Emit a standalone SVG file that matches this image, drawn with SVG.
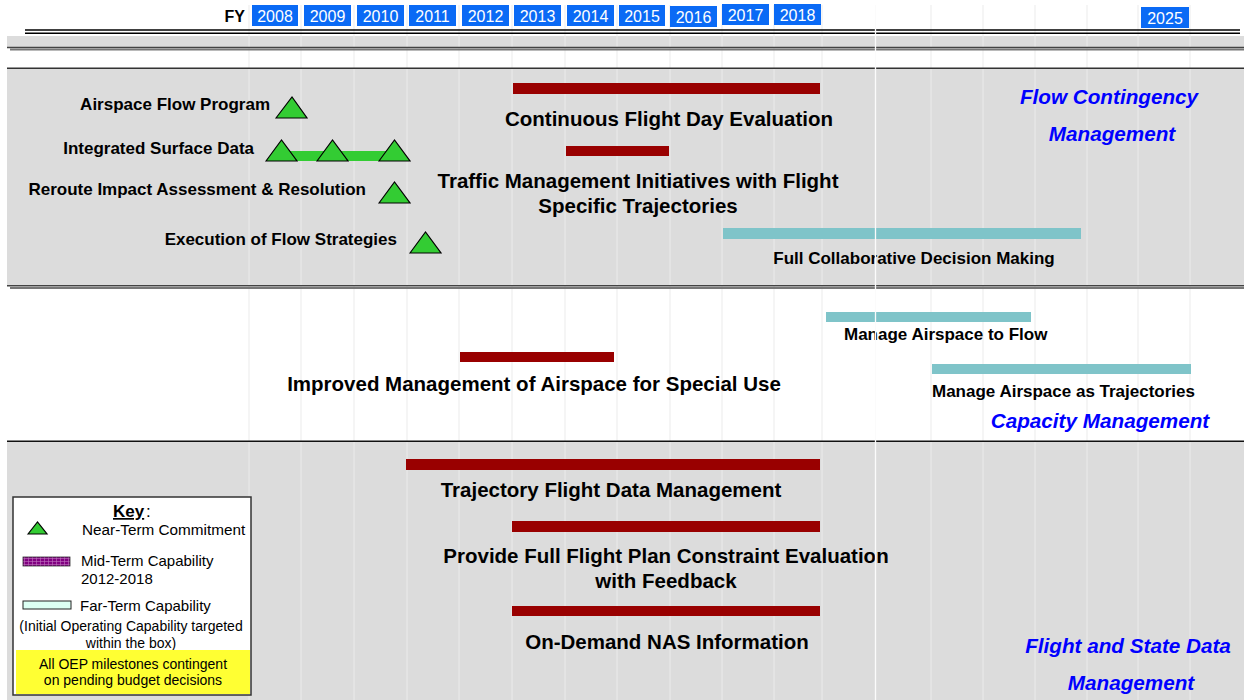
<svg xmlns="http://www.w3.org/2000/svg" width="1244" height="700" viewBox="0 0 1244 700">
<style>
.panel{fill:#dcdcdc}
.grid{stroke:#ebebeb;stroke-width:1}
.yr{fill:#0a6af5}
.yt{font:16px "Liberation Sans",Arial,sans-serif;fill:#fff;text-anchor:middle}
.b17{font:bold 17px "Liberation Sans",Arial,sans-serif;fill:#000}
.b20{font:bold 20.5px "Liberation Sans",Arial,sans-serif;fill:#000;text-anchor:middle}
.blue{font:italic bold 20.7px "Liberation Sans",Arial,sans-serif;fill:#0000ff;text-anchor:middle}
.k{font:15px "Liberation Sans",Arial,sans-serif;fill:#000}
.mid{fill:#990000}
.far{fill:#7fc4c9}
.tri{fill:#33cc33;stroke:#000;stroke-width:1.2;stroke-linejoin:miter}
.end{text-anchor:end}
.ctr{text-anchor:middle}
</style>
<defs>
<pattern id="purp" width="4" height="3" patternUnits="userSpaceOnUse">
<rect width="4" height="3" fill="#800080"/>
<path d="M0 0.5H4M0.5 0V3" stroke="#c070c0" stroke-width="0.6"/>
</pattern>
</defs>
<rect width="1244" height="700" fill="#fff"/>
<!-- panels -->
<g id="panels">
<rect class="panel" x="7" y="36" width="1237" height="11"/>
<rect class="panel" x="7" y="69" width="1237" height="217"/>
<rect class="panel" x="7" y="442" width="1237" height="258"/>
</g>
<!-- grid -->
<g id="grid" class="grid">
<path d="M249 5V700M301 5V700M354 5V700M407 5V700M459 5V700M512 5V700M565 5V700M617 5V700M670 5V700M722 5V700M774 5V700M822 5V700M931 5V700M983 5V700M1035 5V700M1087 5V700M1138 5V700M1190 5V700"/>
</g>
<!-- separators -->
<g id="separators">
<line x1="25" y1="30" x2="1240" y2="30" stroke="#000" stroke-width="1.4"/>
<line x1="25" y1="33.3" x2="1240" y2="33.3" stroke="#000" stroke-width="1.4"/>
<line x1="7" y1="47.5" x2="1244" y2="47.5" stroke="#444" stroke-width="1.6"/>
<line x1="10" y1="49.6" x2="1244" y2="49.6" stroke="#777" stroke-width="2"/>
<line x1="7" y1="68.3" x2="1244" y2="68.3" stroke="#333" stroke-width="1.4"/>
<line x1="7" y1="285.8" x2="1244" y2="285.8" stroke="#444" stroke-width="1.6"/>
<line x1="10" y1="287.9" x2="1244" y2="287.9" stroke="#777" stroke-width="2"/>
<line x1="7" y1="441.2" x2="1244" y2="441.2" stroke="#111" stroke-width="1.5"/>
</g>
<!-- header -->
<g id="header">
<text x="245" y="22" class="b17" style="font-size:16px" text-anchor="end">FY</text>
<rect class="yr" x="252" y="5" width="46" height="21"/><text class="yt" x="275" y="22">2008</text>
<rect class="yr" x="304" y="5" width="47" height="21"/><text class="yt" x="327.5" y="22">2009</text>
<rect class="yr" x="357" y="5" width="47" height="21"/><text class="yt" x="380.5" y="22">2010</text>
<rect class="yr" x="409" y="5" width="47" height="21"/><text class="yt" x="432.5" y="22">2011</text>
<rect class="yr" x="462" y="5" width="47" height="21"/><text class="yt" x="485.5" y="22">2012</text>
<rect class="yr" x="514" y="5" width="47" height="21"/><text class="yt" x="537.5" y="22">2013</text>
<rect class="yr" x="567" y="5" width="47" height="21"/><text class="yt" x="590.5" y="22">2014</text>
<rect class="yr" x="619" y="5" width="46" height="21"/><text class="yt" x="642" y="22">2015</text>
<rect class="yr" x="670" y="6" width="47" height="21"/><text class="yt" x="693.5" y="23">2016</text>
<rect class="yr" x="722" y="4" width="47" height="21"/><text class="yt" x="745.5" y="21">2017</text>
<rect class="yr" x="774" y="4" width="47" height="21"/><text class="yt" x="797.5" y="21">2018</text>
<rect class="yr" x="1141" y="7" width="48" height="21"/><text class="yt" x="1165" y="24">2025</text>
</g>
<!-- Flow Contingency Management -->
<g id="airspace-flow-program">
<text class="b17 end" x="270" y="110">Airspace Flow Program</text>
<polygon class="tri" points="276,118 292,97 307,118"/>
</g>
<g id="integrated-surface-data">
<text class="b17 end" x="254" y="154">Integrated Surface Data</text>
<rect x="281" y="151" width="114" height="10" fill="#33cc33"/>
<polygon class="tri" points="266,161 281.5,140 297,161"/>
<polygon class="tri" points="317,161 332.5,140 348,161"/>
<polygon class="tri" points="379,161 394.5,140 410,161"/>
</g>
<g id="reroute-impact">
<text class="b17 end" x="366" y="195">Reroute Impact Assessment &amp; Resolution</text>
<polygon class="tri" points="379,203 394.5,182 410,203"/>
</g>
<g id="execution-flow-strategies">
<text class="b17 end" x="397" y="245">Execution of Flow Strategies</text>
<polygon class="tri" points="410,253 425.5,232 441,253"/>
</g>
<g id="continuous-flight-day">
<rect class="mid" x="513" y="83" width="307" height="11"/>
<text class="b20" x="669" y="126">Continuous Flight Day Evaluation</text>
</g>
<g id="traffic-management">
<rect class="mid" x="566" y="146" width="103" height="10"/>
<text class="b20" x="638" y="188">Traffic Management Initiatives with Flight</text>
<text class="b20" x="638" y="213">Specific Trajectories</text>
</g>
<g id="full-cdm">
<rect class="far" x="723" y="228" width="358" height="11"/>
<text class="b17 ctr" x="914" y="264">Full Collaborative Decision Making</text>
</g>
<g id="flow-contingency-title">
<text class="blue" x="1109" y="104">Flow Contingency</text>
<text class="blue" x="1112" y="141">Management</text>
</g>
<!-- Capacity Management -->
<g id="improved-special-use">
<rect class="mid" x="460" y="352" width="154" height="10"/>
<text class="b20" x="534" y="391">Improved Management of Airspace for Special Use</text>
</g>
<g id="manage-airspace-flow">
<rect class="far" x="826" y="312" width="205" height="10"/>
<text class="b17" x="844" y="340">Manage Airspace to Flow</text>
</g>
<g id="manage-airspace-trajectories">
<rect class="far" x="932" y="364" width="259" height="10"/>
<text class="b17" x="932" y="397">Manage Airspace as Trajectories</text>
</g>
<g id="capacity-title">
<text class="blue" x="1100" y="428">Capacity Management</text>
</g>
<!-- Flight and State Data Management -->
<g id="trajectory-fdm">
<rect class="mid" x="406" y="459" width="414" height="11"/>
<text class="b20" x="611" y="497">Trajectory Flight Data Management</text>
</g>
<g id="full-flight-plan">
<rect class="mid" x="512" y="521" width="308" height="11"/>
<text class="b20" x="666" y="563">Provide Full Flight Plan Constraint Evaluation</text>
<text class="b20" x="666" y="588">with Feedback</text>
</g>
<g id="on-demand-nas">
<rect class="mid" x="512" y="606" width="308" height="10"/>
<text class="b20" x="667" y="649">On-Demand NAS Information</text>
</g>
<g id="fsdm-title">
<text class="blue" x="1128" y="653">Flight and State Data</text>
<text class="blue" x="1131" y="690">Management</text>
</g>
<!-- Key -->
<g id="key">
<rect x="13" y="497" width="238" height="198" fill="#fff" stroke="#333" stroke-width="1.5"/>
<text x="113" y="517" style="font:bold 17px 'Liberation Sans',Arial,sans-serif" text-decoration="underline">Key</text>
<text x="146" y="517" style="font:17px 'Liberation Sans',Arial,sans-serif">:</text>
<polygon class="tri" points="28,534 37.5,522 47,534"/>
<text class="k" x="82" y="535" style="font-size:15.3px">Near-Term Commitment</text>
<rect x="23" y="557" width="47" height="9" fill="url(#purp)" stroke="#333" stroke-width="0.8"/>
<text class="k" x="81" y="566">Mid-Term Capability</text>
<text class="k" x="81" y="584">2012-2018</text>
<rect x="23" y="601" width="48" height="8" fill="#dcfff3" stroke="#222" stroke-width="1"/>
<text class="k" x="80" y="611">Far-Term Capability</text>
<text class="k ctr" x="131" y="631" style="font-size:14px">(Initial Operating Capability targeted</text>
<text class="k ctr" x="131" y="648" style="font-size:14px">within the box)</text>
<rect x="16" y="650" width="234" height="44" fill="#ffff33"/>
<text class="k ctr" x="133" y="669" style="font-size:14px">All OEP milestones contingent</text>
<text class="k ctr" x="133" y="685" style="font-size:14px">on pending budget decisions</text>
</g>
<g id="connectors"></g>
<line x1="875.5" y1="5" x2="875.5" y2="700" stroke="#fbfbfb" stroke-width="1.3"/>
</svg>
